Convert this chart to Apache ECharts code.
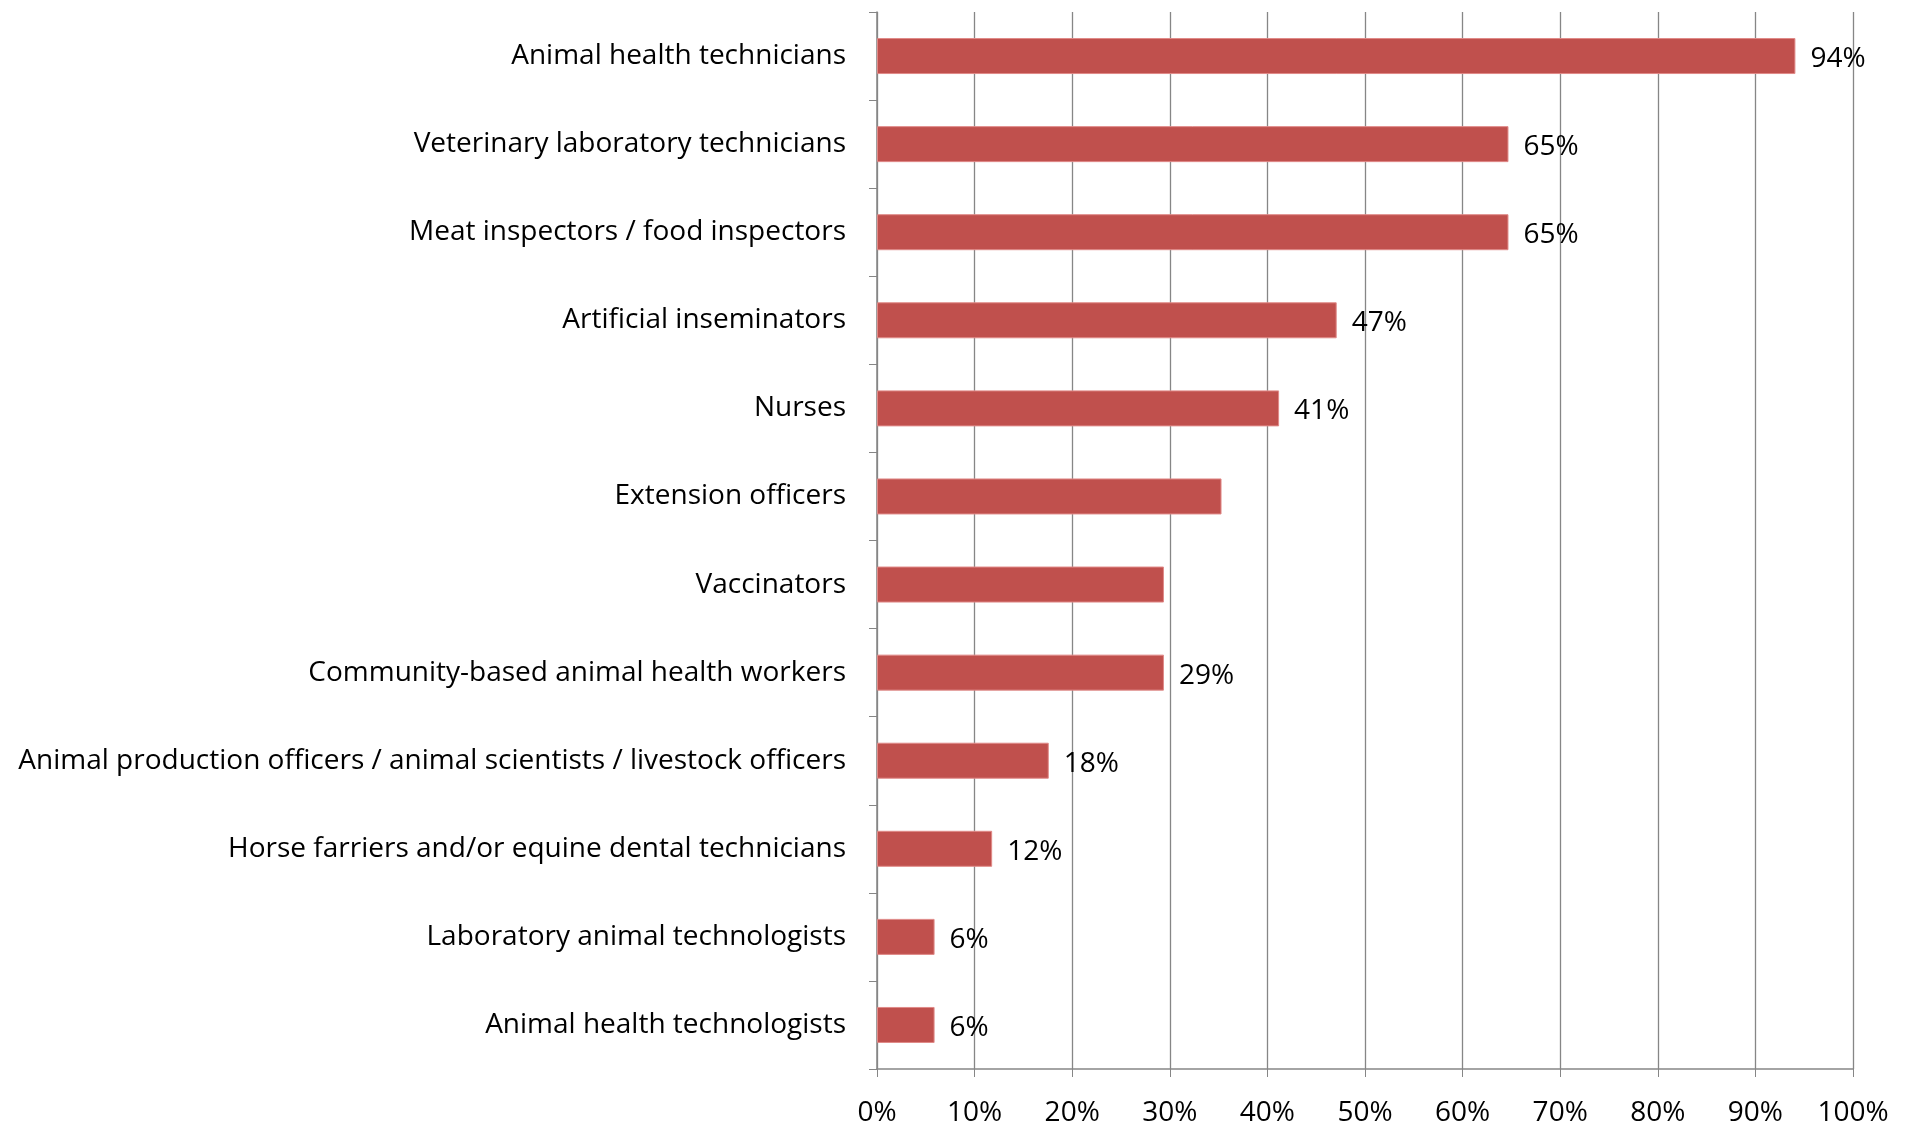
<!DOCTYPE html>
<html>
<head>
<meta charset="utf-8">
<title>Paraprofessional categories</title>
<script src="https://cdn.jsdelivr.net/npm/echarts@6/dist/echarts.min.js"></script>
<style>
	html, body { margin: 0; padding: 0; background: #fff; }
	#chart { width: 1910px; height: 1127px; }
</style>
</head>
<body>
<div id="chart"></div>
<script>
// categories, top to bottom
var categories = [
	'Animal health technicians',
	'Veterinary laboratory technicians',
	'Meat inspectors / food inspectors',
	'Artificial inseminators',
	'Nurses',
	'Extension officers',
	'Vaccinators',
	'Community-based animal health workers',
	'Animal production officers / animal scientists / livestock officers',
	'Horse farriers and/or equine dental technicians',
	'Laboratory animal technologists',
	'Animal health technologists'
];

// share of countries (%)
var values = [94.1, 64.7, 64.7, 47.1, 41.2, 35.3, 29.4, 29.4, 17.6, 11.8, 5.9, 5.9];

// which bars carry a value label in the original
var labelShown = [true, true, true, true, true, false, false, true, true, true, true, true];

var xTicks = [0, 10, 20, 30, 40, 50, 60, 70, 80, 90, 100];

var fontFamily = '"Open Sans", "Noto Sans", sans-serif';
var axisGrey = '#868686';

var seriesData = values.map(function (v, i) {
	return {
		value: v,
		label: { show: labelShown[i] }
	};
});

var myChart = echarts.init(document.getElementById('chart'), null, { renderer: 'canvas' });

myChart.setOption({
	animation: false,
	backgroundColor: '#ffffff',
	grid: {
		left: 877,
		right: 57,
		top: 12,
		bottom: 58,
		containLabel: false
	},
	xAxis: {
		type: 'value',
		min: xTicks[0],
		max: xTicks[xTicks.length - 1],
		interval: 10,
		axisLine: { show: true, lineStyle: { color: axisGrey, width: 1.5 } },
		axisTick: { show: true, length: 8, lineStyle: { color: axisGrey } },
		splitLine: { show: true, lineStyle: { color: axisGrey, width: 1.3 } },
		axisLabel: {
			margin: 30,
			fontFamily: fontFamily,
			fontSize: 28,
			color: '#000',
			formatter: function (v) { return v + '%'; }
		}
	},
	yAxis: {
		type: 'category',
		data: categories,
		inverse: true,
		axisLine: { show: true, lineStyle: { color: axisGrey, width: 1.5 } },
		axisTick: { show: true, length: 8, alignWithLabel: false, lineStyle: { color: axisGrey } },
		splitLine: { show: false },
		axisLabel: {
			margin: 31,
			padding: [2, 0, 0, 0],
			fontFamily: fontFamily,
			fontSize: 28,
			color: '#000'
		}
	},
	series: [{
		type: 'bar',
		data: seriesData,
		barWidth: 36,
		itemStyle: {
			color: '#C0504D',
			borderColor: '#E08A88',
			borderWidth: 1
		},
		label: {
			position: 'right',
			distance: 15,
			offset: [0, 3],
			fontFamily: fontFamily,
			fontSize: 28,
			color: '#000',
			formatter: function (p) { return Math.round(p.value) + '%'; }
		}
	}]
});
</script>
</body>
</html>
